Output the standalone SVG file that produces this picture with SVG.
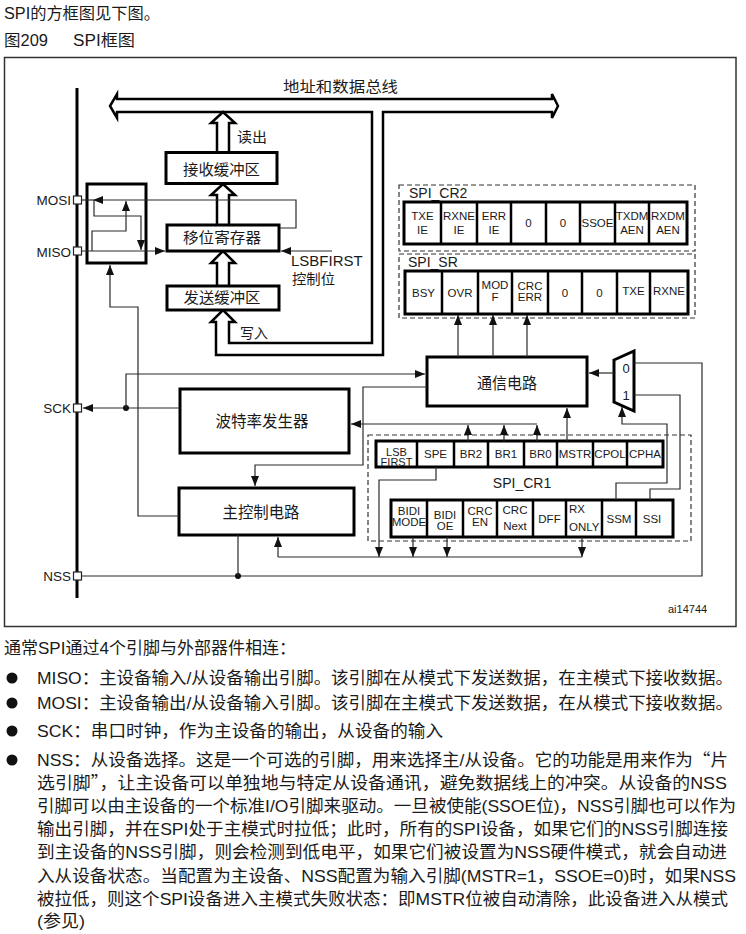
<svg xmlns="http://www.w3.org/2000/svg" width="746" height="934" viewBox="0 0 746 934">
<style>
text{font-family:'Liberation Sans','Noto Sans CJK SC',sans-serif;fill:#1a1a1a}
.cjk{font-family:'Noto Sans CJK SC',sans-serif}
.body{font-size:16.5px}
.lbl{font-size:15px;text-anchor:middle}
.pin{font-size:13.5px;text-anchor:end}
.c{font-size:11.5px;text-anchor:middle}
.box{fill:#fff;stroke:#000;stroke-width:3}
.div{stroke:#000;stroke-width:2.5}
.w{fill:none;stroke:#2a2a2a;stroke-width:1.2}
.a{fill:none;stroke:#2a2a2a;stroke-width:1.2;marker-end:url(#ah)}
.dash{fill:none;stroke:#333;stroke-width:1.2;stroke-dasharray:5 3}
.hol{fill:#fff;stroke:#000;stroke-width:2.5}
.pinbox{fill:#fff;stroke:#222;stroke-width:1.2}
</style>
<defs>
<marker id="ah" viewBox="0 0 10 8" refX="10" refY="4" markerWidth="10" markerHeight="8" markerUnits="userSpaceOnUse" orient="auto"><path d="M0,0 L10,4 L0,8 z" fill="#111"/></marker>
</defs>
<rect width="746" height="934" fill="#fff"/>

<text x="4" y="19" style="font-size:16px" textLength="156" lengthAdjust="spacingAndGlyphs">SPI的方框图见下图。</text>
<text x="4" y="46" style="font-size:16px" textLength="44" lengthAdjust="spacingAndGlyphs">图209</text>
<text x="73" y="46" style="font-size:16px" textLength="62" lengthAdjust="spacingAndGlyphs">SPI框图</text>

<rect x="4.5" y="57.5" width="731.5" height="569" fill="none" stroke="#333" stroke-width="1.5"/>

<g id="bus">
<line x1="77" y1="88" x2="77" y2="598" stroke="#000" stroke-width="3"/>
<path class="hol" d="M117,99 H552 V94 L558,106 L552,118 V112 H383 V355 H216 V322 H211 L223,310 L235,322 H229 V343 H372 V112 H117 V118 L110,106 L117,94 Z"/>
<text x="283" y="92" style="font-size:15px" textLength="115" lengthAdjust="spacingAndGlyphs">地址和数据总线</text>
</g>

<g id="hollow-arrows">
<path class="hol" d="M217,152 V123 H211 L223,112 L235,123 H229 V152"/>
<path class="hol" d="M217,225 V195 H211 L223,184 L235,195 H229 V225"/>
<path class="hol" d="M217,286 V263 H211 L223,251 L235,263 H229 V286"/>
<text x="237" y="142" style="font-size:14px" textLength="30" lengthAdjust="spacingAndGlyphs">读出</text>
<text x="240" y="338" style="font-size:14px" textLength="28" lengthAdjust="spacingAndGlyphs">写入</text>
</g>

<g id="rxbuf">
<rect class="box" x="166" y="152.5" width="111" height="31"/>
<text class="lbl" x="221.5" y="175" textLength="77" lengthAdjust="spacingAndGlyphs">接收缓冲区</text>
</g>
<g id="shiftreg">
<rect class="box" x="167" y="225" width="112" height="26"/>
<text class="lbl" x="222" y="243" textLength="78" lengthAdjust="spacingAndGlyphs">移位寄存器</text>
</g>
<g id="txbuf">
<rect class="box" x="167" y="286" width="112" height="24"/>
<text class="lbl" x="222" y="303" textLength="77" lengthAdjust="spacingAndGlyphs">发送缓冲区</text>
</g>
<g id="lsbfirst-label">
<text x="291" y="266" style="font-size:15px">LSBFIRST</text>
<text x="292" y="283.5" style="font-size:14px" textLength="43" lengthAdjust="spacingAndGlyphs">控制位</text>
</g>

<g id="switch">
<rect class="box" x="87" y="184" width="59" height="79" fill="none"/>
</g>

<g id="pins">
<rect class="pinbox" x="73.5" y="196" width="8" height="8"/>
<rect class="pinbox" x="73.5" y="247" width="8" height="8"/>
<rect class="pinbox" x="73.5" y="404" width="8" height="8"/>
<rect class="pinbox" x="73.5" y="572" width="8" height="8"/>
<text class="pin" x="71" y="205">MOSI</text>
<text class="pin" x="71" y="256.5">MISO</text>
<text class="pin" x="71" y="413">SCK</text>
<text class="pin" x="71" y="581">NSS</text>
</g>

<g id="baud">
<rect class="box" x="180" y="389" width="169" height="64"/>
<text class="lbl" x="262" y="427" style="font-size:16px" textLength="93" lengthAdjust="spacingAndGlyphs">波特率发生器</text>
</g>
<g id="master">
<rect class="box" x="179" y="488" width="175" height="47"/>
<text class="lbl" x="261" y="518" style="font-size:16px" textLength="77" lengthAdjust="spacingAndGlyphs">主控制电路</text>
</g>
<g id="comm">
<rect class="box" x="427" y="357" width="160" height="49"/>
<text class="lbl" x="507" y="389" style="font-size:16px" textLength="60" lengthAdjust="spacingAndGlyphs">通信电路</text>
</g>
<g id="mux">
<polygon points="614,360 634,351 634,411 614,402" fill="#fff" stroke="#000" stroke-width="3"/>
<text x="626" y="373" style="font-size:13px;text-anchor:middle">0</text>
<text x="626" y="400" style="font-size:13px;text-anchor:middle">1</text>
</g>

<g id="spi_cr2">
<rect class="dash" x="399" y="185" width="296" height="66"/>
<text x="409" y="198" style="font-size:14px">SPI_CR2</text>
<rect class="box" x="404" y="202" width="283" height="42"/>
<path class="div" d="M441,202V244M477,202V244M511,202V244M546,202V244M580,202V244M615,202V244M649,202V244"/>
<text class="c" x="422.5" y="220">TXE</text><text class="c" x="422.5" y="234">IE</text>
<text class="c" x="459" y="220">RXNE</text><text class="c" x="459" y="234">IE</text>
<text class="c" x="494" y="220">ERR</text><text class="c" x="494" y="234">IE</text>
<text class="c" x="528.5" y="227">0</text>
<text class="c" x="563" y="227">0</text>
<text class="c" x="597.5" y="227">SSOE</text>
<text class="c" x="632" y="220">TXDM</text><text class="c" x="632" y="234">AEN</text>
<text class="c" x="668" y="220">RXDM</text><text class="c" x="668" y="234">AEN</text>
</g>

<g id="spi_sr">
<rect class="dash" x="399" y="254" width="296" height="64"/>
<text x="408" y="267" style="font-size:14px">SPI_SR</text>
<rect class="box" x="405" y="271" width="283" height="43"/>
<path class="div" d="M442,271V314M478,271V314M512,271V314M548,271V314M582,271V314M617,271V314M650,271V314"/>
<text class="c" x="423.5" y="297">BSY</text>
<text class="c" x="460" y="297">OVR</text>
<text class="c" x="495" y="289">MOD</text><text class="c" x="495" y="301">F</text>
<text class="c" x="530" y="290">CRC</text><text class="c" x="530" y="301">ERR</text>
<text class="c" x="565" y="297">0</text>
<text class="c" x="599.5" y="297">0</text>
<text class="c" x="633.5" y="295">TXE</text>
<text class="c" x="669" y="295">RXNE</text>
</g>

<g id="spi_cr1">
<rect class="dash" x="368" y="435" width="323" height="106"/>
<text x="522" y="488" style="font-size:14px;text-anchor:middle">SPI_CR1</text>
<rect class="box" x="376" y="441" width="287" height="26"/>
<path class="div" d="M417,441V467M454,441V467M488,441V467M524,441V467M557,441V467M593,441V467M627,441V467"/>
<text class="c" x="396.5" y="455.5" style="font-size:11px">LSB</text><text class="c" x="396.5" y="466" style="font-size:11px">FIRST</text>
<text class="c" x="435.5" y="458">SPE</text>
<text class="c" x="471" y="458">BR2</text>
<text class="c" x="506" y="458">BR1</text>
<text class="c" x="540.5" y="458">BR0</text>
<text class="c" x="575" y="458">MSTR</text>
<text class="c" x="610" y="458">CPOL</text>
<text class="c" x="645" y="458">CPHA</text>
<rect class="box" x="391" y="500" width="282" height="37"/>
<path class="div" d="M427,500V537M463,500V537M497,500V537M533,500V537M566,500V537M602,500V537M636,500V537"/>
<text class="c" x="409" y="515">BIDI</text><text class="c" x="409" y="526">MODE</text>
<text class="c" x="445" y="519">BIDI</text><text class="c" x="445" y="530">OE</text>
<text class="c" x="480" y="515">CRC</text><text class="c" x="480" y="526">EN</text>
<text class="c" x="515" y="514">CRC</text><text class="c" x="515" y="530">Next</text>
<text class="c" x="549.5" y="523">DFF</text>
<text x="569" y="513" style="font-size:11.5px">RX</text><text x="569" y="531" style="font-size:11.5px">ONLY</text>
<text class="c" x="619" y="523">SSM</text>
<text class="c" x="652" y="523">SSI</text>
</g>

<g id="connectors">
<path class="a" d="M280,228 H296 V200 H93"/>
<path class="w" d="M82,200 H93"/>
<path class="a" d="M94,200 V216 H141 V250"/>
<path class="a" d="M92,251 V231 H126 V201"/>
<path class="a" d="M82,251 H165"/>
<path class="a" d="M332,251 H281"/>
<path class="a" d="M179,516 H138 V307 H110 V265"/>
<path class="a" d="M180,408 H83"/>
<circle cx="126" cy="408" r="3" fill="#111"/>
<path class="a" d="M126,408 V374 H425"/>
<path class="a" d="M427,387 H363 V465 H255 V486"/>
<path class="a" d="M537,424 H351"/>
<path class="a" d="M468,441 V425"/>
<path class="a" d="M504,441 V425"/>
<path class="a" d="M537,441 V425"/>
<path class="a" d="M567,441 V408"/>
<path class="a" d="M458,357 V315"/>
<path class="a" d="M493,357 V315"/>
<path class="a" d="M527,357 V315"/>
<path class="a" d="M614,373 H589"/>
<path class="w" d="M82,576 H702 V363 H634"/>
<circle cx="238" cy="576" r="3" fill="#111"/>
<path class="w" d="M238,576 V535"/>
<path class="w" d="M650,500 V489 H680 V395 H634"/>
<path class="a" d="M616,500 V483 H667 V424 H622 V407"/>
<path class="w" d="M278,557 H582"/>
<path class="a" d="M278,557 V537"/>
<path class="a" d="M436,467 V480 H379 V557"/>
<path class="a" d="M413,537 V557"/>
<path class="a" d="M447,537 V557"/>
<path class="a" d="M582,537 V557"/>
</g>

<text x="668" y="613" style="font-size:11px">ai14744</text>

<g id="body-text" class="body">
<text x="4" y="654" textLength="292" lengthAdjust="spacingAndGlyphs">通常SPI通过4个引脚与外部器件相连：</text>
<circle cx="12" cy="678" r="5.5" fill="#111"/>
<circle cx="12" cy="703" r="5.5" fill="#111"/>
<circle cx="12" cy="731" r="5.5" fill="#111"/>
<circle cx="12" cy="760" r="5.5" fill="#111"/>
<text x="37" y="684" textLength="696" lengthAdjust="spacingAndGlyphs">MISO：主设备输入/从设备输出引脚。该引脚在从模式下发送数据，在主模式下接收数据。</text>
<text x="37" y="709" textLength="696" lengthAdjust="spacingAndGlyphs">MOSI：主设备输出/从设备输入引脚。该引脚在主模式下发送数据，在从模式下接收数据。</text>
<text x="37" y="737" textLength="406" lengthAdjust="spacingAndGlyphs">SCK：串口时钟，作为主设备的输出，从设备的输入</text>
<text x="37" y="766" textLength="691" lengthAdjust="spacingAndGlyphs">NSS：从设备选择。这是一个可选的引脚，用来选择主/从设备。它的功能是用来作为<tspan class="cjk">“</tspan>片</text>
<text x="37" y="789" textLength="690" lengthAdjust="spacingAndGlyphs">选引脚<tspan class="cjk">”</tspan>，让主设备可以单独地与特定从设备通讯，避免数据线上的冲突。从设备的NSS</text>
<text x="37" y="812" textLength="699" lengthAdjust="spacingAndGlyphs">引脚可以由主设备的一个标准I/O引脚来驱动。一旦被使能(SSOE位)，NSS引脚也可以作为</text>
<text x="37" y="835" textLength="691" lengthAdjust="spacingAndGlyphs">输出引脚，并在SPI处于主模式时拉低；此时，所有的SPI设备，如果它们的NSS引脚连接</text>
<text x="37" y="858" textLength="690" lengthAdjust="spacingAndGlyphs">到主设备的NSS引脚，则会检测到低电平，如果它们被设置为NSS硬件模式，就会自动进</text>
<text x="37" y="882" textLength="699" lengthAdjust="spacingAndGlyphs">入从设备状态。当配置为主设备、NSS配置为输入引脚(MSTR=1，SSOE=0)时，如果NSS</text>
<text x="37" y="905" textLength="691" lengthAdjust="spacingAndGlyphs">被拉低，则这个SPI设备进入主模式失败状态：即MSTR位被自动清除，此设备进入从模式</text>
<text x="37" y="927" textLength="48" lengthAdjust="spacingAndGlyphs">(参见)</text>
</g>
</svg>
